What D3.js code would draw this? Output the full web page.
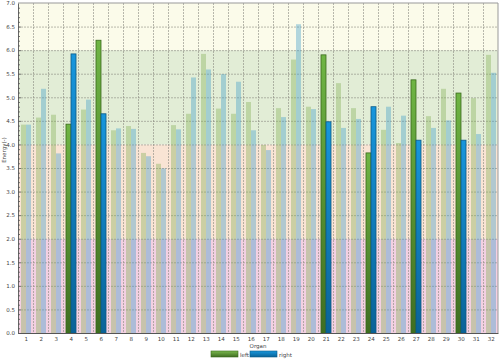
<!DOCTYPE html>
<html>
<head>
<meta charset="utf-8">
<script src="https://cdn.jsdelivr.net/npm/d3@7"></script>
<style>
  body { margin: 0; background: #fff; }
  svg text { font-family: "DejaVu Sans", sans-serif; fill: #444; }
</style>
</head>
<body>
<svg width="500" height="363"></svg>
<script>
var organs = d3.range(1, 33).map(String);
var leftValues = [4.42, 4.57, 4.63, 4.43, 4.74, 6.21, 4.30, 4.39, 3.82, 3.59,
  4.41, 4.65, 5.92, 4.76, 4.65, 4.90, 3.99, 4.77, 5.80, 4.80,
  5.90, 5.30, 4.77, 3.82, 4.31, 4.03, 5.37, 4.60, 5.18, 5.09, 4.98, 5.90];
var rightValues = [4.42, 5.18, 3.81, 5.92, 4.95, 4.65, 4.34, 4.33, 3.75, 3.49,
  4.32, 5.42, 5.59, 5.49, 5.33, 4.30, 3.88, 4.58, 6.55, 4.75,
  4.48, 4.35, 4.54, 4.80, 4.80, 4.61, 4.09, 4.35, 4.51, 4.09, 4.22, 5.52];
var highlighted = ["4", "6", "21", "24", "27", "30"];
var seriesNames = ["left", "right"];
var bands = [
  {from: 0, to: 2, color: "#f3d0e2"},
  {from: 2, to: 4, color: "#f9e4d4"},
  {from: 4, to: 6, color: "#e2edd6"},
  {from: 6, to: 7, color: "#fbfbea"}
];

var svg = d3.select("svg"),
  margin = {top: 3, right: 2, bottom: 30, left: 18},
  width = +svg.attr("width") - margin.left - margin.right,
  height = +svg.attr("height") - margin.top - margin.bottom,
  g = svg.append("g").attr("transform", "translate(" + margin.left + "," + margin.top + ")");

var x = d3.scaleBand().domain(organs).range([0, width]);
var xInner = d3.scaleBand().domain(seriesNames).range([3, 13]);
var y = d3.scaleLinear().domain([0, 7]).range([height, 0]);

// gradients for highlighted bars
var defs = svg.append("defs");
function grad(id, top, bottom) {
  var lg = defs.append("linearGradient").attr("id", id)
    .attr("x1", 0).attr("y1", 0).attr("x2", 0).attr("y2", 1);
  lg.append("stop").attr("offset", "0%").attr("stop-color", top);
  lg.append("stop").attr("offset", "100%").attr("stop-color", bottom);
}
grad("gLeft", "#6fb544", "#3f6e21");
grad("gRight", "#1896dc", "#0a6398");
grad("lgLeft", "#7ab84e", "#3f6e21");
grad("lgRight", "#1896dc", "#0a6398");

// background bands
g.selectAll(".band").data(bands).enter().append("rect")
  .attr("x", 0).attr("width", width)
  .attr("y", function(d) { return y(d.to); })
  .attr("height", function(d) { return y(d.from) - y(d.to); })
  .attr("fill", function(d) { return d.color; });

// grid
g.selectAll(".hgrid").data(d3.range(0.5, 7, 0.5)).enter().append("line")
  .attr("x1", 0).attr("x2", width)
  .attr("y1", function(d) { return y(d) + 0.5; })
  .attr("y2", function(d) { return y(d) + 0.5; })
  .attr("stroke", "#8a8a80").attr("stroke-opacity", 0.6)
  .attr("stroke-dasharray", "2,1");
g.selectAll(".vgrid").data(organs.slice(1)).enter().append("line")
  .attr("x1", function(d) { return Math.round(x(d)) + 0.5; })
  .attr("x2", function(d) { return Math.round(x(d)) + 0.5; })
  .attr("y1", 0).attr("y2", height)
  .attr("stroke", "#8a8a80").attr("stroke-opacity", 0.6)
  .attr("stroke-dasharray", "2,1");

// bars
var rows = organs.map(function(o, i) {
  return {organ: o, values: [
    {key: "left", value: leftValues[i]},
    {key: "right", value: rightValues[i]}
  ]};
});
var colors = {left: "#82ad55", right: "#3c9ac8"};
var groups = g.selectAll(".grp").data(rows).enter().append("g")
  .attr("transform", function(d) { return "translate(" + x(d.organ) + ",0)"; });
groups.each(function(row) {
  var hi = highlighted.indexOf(row.organ) >= 0;
  d3.select(this).selectAll("rect").data(row.values).enter().append("rect")
    .attr("x", function(d) { return xInner(d.key); })
    .attr("width", xInner.bandwidth())
    .attr("y", function(d) { return y(d.value); })
    .attr("height", function(d) { return y(0) - y(d.value); })
    .attr("fill", function(d) {
      if (hi) return d.key == "left" ? "url(#gLeft)" : "url(#gRight)";
      return colors[d.key];
    })
    .attr("fill-opacity", hi ? 1 : 0.38)
    .attr("stroke", function(d) {
      if (!hi) return "none";
      return d.key == "left" ? "#3a6a1c" : "#0b5a88";
    })
    .attr("stroke-width", hi ? 0.8 : 0);
});

// frame
g.append("line").attr("x1", 0).attr("x2", width).attr("y1", 0).attr("y2", 0)
  .attr("stroke", "#999").attr("stroke-width", 1.2);
g.append("line").attr("x1", width).attr("x2", width).attr("y1", 0).attr("y2", height)
  .attr("stroke", "#999");

// y axis
var yAxis = g.append("g")
  .call(d3.axisLeft(y).tickValues(d3.range(0, 7.01, 0.5)).tickFormat(d3.format(".1f"))
    .tickSize(0).tickPadding(3));
yAxis.select(".domain").attr("stroke", "#666");
yAxis.selectAll("text").style("font-size", "5.5px").attr("fill", "#555");
g.append("g").selectAll("line").data(d3.range(0, 70)).enter().append("line")
  .attr("x1", 0).attr("x2", function(d) { return d % 5 == 0 ? 3 : 2; })
  .attr("y1", function(d) { return y(d / 10) + 0.5; })
  .attr("y2", function(d) { return y(d / 10) + 0.5; })
  .attr("stroke", "#555").attr("stroke-width", 0.8);
g.append("text")
  .attr("transform", "translate(-12," + y(3.88) + ") rotate(-90)")
  .attr("text-anchor", "middle")
  .style("font-size", "5.5px")
  .text("Energy(-)");

// x axis
var xAxis = g.append("g")
  .attr("transform", "translate(0," + height + ")")
  .call(d3.axisBottom(x).tickSize(0).tickPadding(4));
xAxis.select(".domain").attr("stroke", "#555").attr("stroke-width", 1.2);
xAxis.selectAll("text").style("font-size", "5.5px").attr("fill", "#555")
  .attr("dx", "0.8");
g.append("text")
  .attr("x", width / 2).attr("y", height + 15)
  .attr("text-anchor", "middle")
  .style("font-size", "5.5px")
  .text("Organ");

// legend
var legend = svg.append("g").attr("transform", "translate(211,351)");
var items = legend.selectAll("g").data(seriesNames).enter().append("g")
  .attr("transform", function(d, i) { return "translate(" + (i * 39) + ",0)"; });
items.append("rect")
  .attr("width", 27).attr("height", 6)
  .attr("fill", function(d) { return d == "left" ? "url(#lgLeft)" : "url(#lgRight)"; })
  .attr("stroke", function(d) { return d == "left" ? "#3a6a1c" : "#0b5a88"; })
  .attr("stroke-width", 0.6);
items.append("text")
  .attr("x", 29).attr("y", 5.5)
  .style("font-size", "5.5px")
  .text(function(d) { return d; });
</script>
</body>
</html>
